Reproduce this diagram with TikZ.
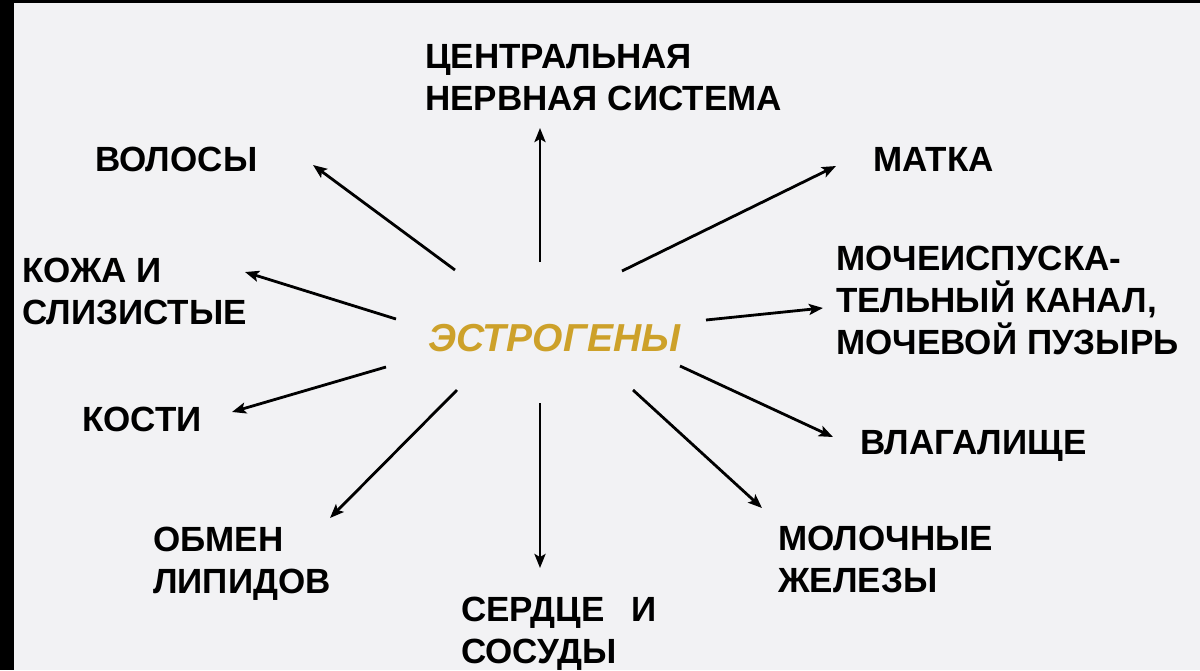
\documentclass[tikz,border=0pt]{standalone}
\usepackage{fontspec}
\setmainfont{Liberation Sans}
\usetikzlibrary{arrows.meta}
\definecolor{bgc}{HTML}{F2F2F4}
\definecolor{goldc}{HTML}{CDA12A}
\tikzset{
  lbl/.style={anchor=north west, inner sep=0pt, align=left,
    font=\fontsize{35}{42}\selectfont\bfseries, text=black},
  arr/.style={line width=2.8pt, draw=black,
    -{Stealth[length=14pt,width=11pt,inset=3pt]}},
}
\begin{document}
\begin{tikzpicture}[x=1pt,y=-1pt]
\useasboundingbox (0,0) rectangle (1200,670);
\fill[bgc] (0,0) rectangle (1200,670);
\fill[black] (0,0) rectangle (14,670);
\fill[black] (0,0) rectangle (1200,3);

% centre
\node[anchor=west, inner sep=0pt, font=\fontsize{39}{48}\selectfont\bfseries\itshape,
  text=goldc] (est) at (428,338) {ЭСТРОГЕНЫ};

% labels
\node[lbl] (cns) at (425,44) {ЦЕНТРАЛЬНАЯ\\НЕРВНАЯ СИСТЕМА};
\node[lbl] (volosy) at (95,147) {ВОЛОСЫ};
\node[lbl] (matka) at (873,147) {МАТКА};
\node[lbl] (kozha) at (22,258) {КОЖА И\\СЛИЗИСТЫЕ};
\node[lbl] (moch) at (836,246) {МОЧЕИСПУСКА-\\ТЕЛЬНЫЙ КАНАЛ,\\МОЧЕВОЙ ПУЗЫРЬ};
\node[lbl] (kosti) at (82,407) {КОСТИ};
\node[lbl] (vlag) at (860,430) {ВЛАГАЛИЩЕ};
\node[lbl] (obmen) at (153,527) {ОБМЕН\\ЛИПИДОВ};
\node[lbl] (moloch) at (778,526) {МОЛОЧНЫЕ\\ЖЕЛЕЗЫ};
\node[lbl] (serdce) at (461,597) {СЕРДЦЕ\hspace{0.5em} И\\СОСУДЫ};

% arrow start points (around the centre) and tips
\coordinate (s-cns) at (540,262);    \coordinate (t-cns) at (540,128);
\coordinate (s-vol) at (455,270);    \coordinate (t-vol) at (313,165);
\coordinate (s-mat) at (622,271);    \coordinate (t-mat) at (836,166);
\coordinate (s-koz) at (396,319);    \coordinate (t-koz) at (245,272);
\coordinate (s-moc) at (706,320);    \coordinate (t-moc) at (823,308);
\coordinate (s-kos) at (386,367);    \coordinate (t-kos) at (232,412);
\coordinate (s-obm) at (457,390);    \coordinate (t-obm) at (330,518);
\coordinate (s-ser) at (540,403);    \coordinate (t-ser) at (540,568);
\coordinate (s-mol) at (633,390);    \coordinate (t-mol) at (762,508);
\coordinate (s-vla) at (680,366);    \coordinate (t-vla) at (833,437);

\draw[arr] (s-cns) -- (t-cns);
\draw[arr] (s-vol) -- (t-vol);
\draw[arr] (s-mat) -- (t-mat);
\draw[arr] (s-koz) -- (t-koz);
\draw[arr] (s-moc) -- (t-moc);
\draw[arr] (s-kos) -- (t-kos);
\draw[arr] (s-obm) -- (t-obm);
\draw[arr] (s-ser) -- (t-ser);
\draw[arr] (s-mol) -- (t-mol);
\draw[arr] (s-vla) -- (t-vla);
\end{tikzpicture}
\end{document}
